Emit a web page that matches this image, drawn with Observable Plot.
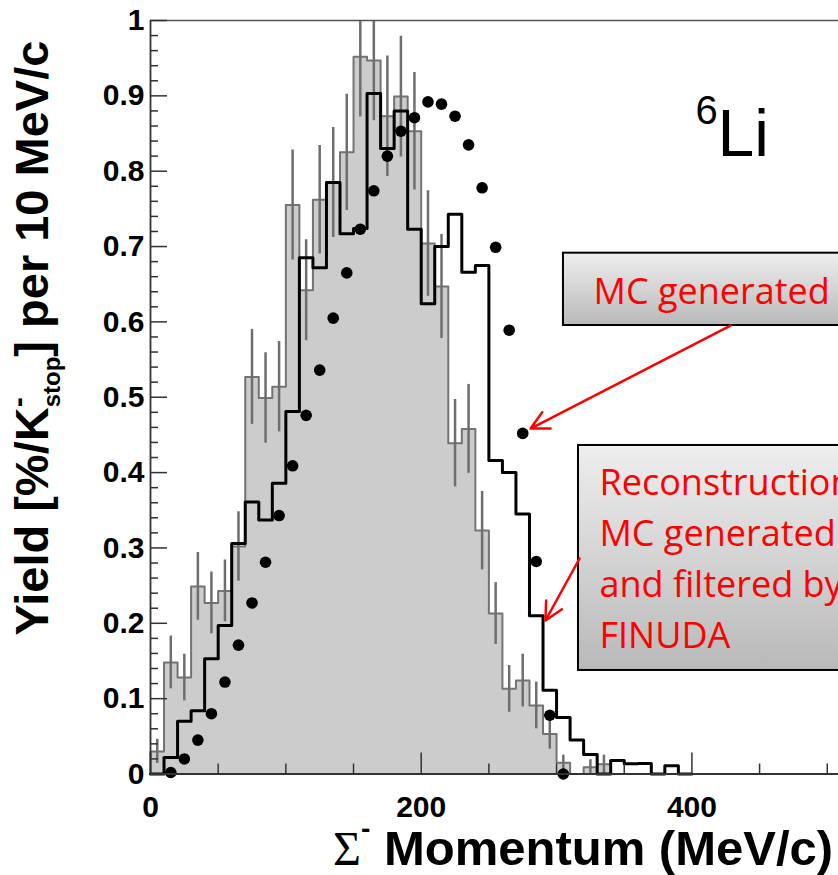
<!DOCTYPE html>
<html>
<head>
<meta charset="utf-8">
<script src="https://cdn.jsdelivr.net/npm/d3@7"></script>
<script src="https://cdn.jsdelivr.net/npm/@observablehq/plot@0.6"></script>
<style>
  html, body { margin: 0; padding: 0; background: #fff; overflow: hidden; }
  #chart svg { display: block; overflow: hidden; }
</style>
</head>
<body>
<div id="chart"></div>
<script>
// Σ⁻ momentum spectrum for K⁻ absorption at rest on ⁶Li, 10 MeV/c bins starting at 0
const binWidth = 10;

// measured yield per bin (grey filled histogram) and its statistical error
const measuredYield = [
  0.030, 0.148, 0.128, 0.249, 0.227, 0.243, 0.302, 0.527, 0.499, 0.514,
  0.755, 0.642, 0.762, 0.785, 0.825, 0.952, 0.947, 0.873, 0.899, 0.853,
  0.704, 0.647, 0.439, 0.458, 0.323, 0.213, 0.113, 0.124, 0.091, 0.053,
  0.015, 0.000, 0.009, 0.013
];
const measuredError = [
  0.016, 0.035, 0.031, 0.045, 0.041, 0.041, 0.046, 0.063, 0.060, 0.060,
  0.073, 0.067, 0.072, 0.073, 0.077, 0.080, 0.080, 0.080, 0.080, 0.078,
  0.070, 0.069, 0.058, 0.059, 0.052, 0.041, 0.031, 0.035, 0.031, 0.020,
  0.010, 0.000, 0.010, 0.012
];

// reconstruction of the MC sample after FINUDA filtering (black step line)
const reconstructedYield = [
  0.000, 0.022, 0.070, 0.084, 0.153, 0.197, 0.306, 0.361, 0.337, 0.386,
  0.481, 0.685, 0.672, 0.785, 0.717, 0.724, 0.903, 0.830, 0.880, 0.723,
  0.624, 0.700, 0.743, 0.666, 0.675, 0.416, 0.400, 0.345, 0.210, 0.111,
  0.075, 0.045, 0.026, 0.000, 0.018, 0.0135, 0.014, 0.000, 0.011, 0.000
];

// generated MC spectrum (black dots)
const generatedMomentum = [
  15, 25, 35, 45, 55, 65, 75, 85, 95, 105,
  115, 125, 135, 145, 155, 165, 175, 185, 195, 205,
  215, 225, 235, 245, 255, 265, 275, 285, 295, 305
];
const generatedYield = [
  0.002, 0.020, 0.045, 0.080, 0.122, 0.171, 0.227, 0.281, 0.343, 0.409,
  0.476, 0.536, 0.605, 0.665, 0.723, 0.774, 0.820, 0.853, 0.871, 0.892,
  0.889, 0.873, 0.835, 0.778, 0.699, 0.589, 0.452, 0.282, 0.078, 0.000
];

// axes
const xTicksMajor = [0, 200, 400];
const xTickLabels = ["0", "200", "400"];
const xTicksMinor = [50, 100, 150, 250, 300, 350, 450, 500];
const yTicksMajor = [0, 0.1, 0.2, 0.3, 0.4, 0.5, 0.6, 0.7, 0.8, 0.9, 1];
const yTickLabels = ["0", "0.1", "0.2", "0.3", "0.4", "0.5", "0.6", "0.7", "0.8", "0.9", "1"];
const yTicksMinor = d3.range(1, 50).filter(i => i % 5 !== 0).map(i => i / 50);

// annotations, placed in (momentum, yield) units
const noteBoxes = [
  {x1: 305.1, x2: 600, y1: 0.5952, y2: 0.6912},
  {x1: 316.2, x2: 600, y1: 0.1374, y2: 0.4360}
];
const noteTexts = [
  {x: 327.3, y: 0.6244, text: "MC generated"},
  {x: 331.7, y: 0.1666, text: "Reconstruction of\nMC generated\nand filtered by\nFINUDA"}
];
const noteArrows = [
  {x1: 428.5, y1: 0.5952, x2: 280.8, y2: 0.4585},
  {x1: 317.0, y1: 0.2860, x2: 291.8, y2: 0.2037}
];
const targetLabel = [{x: 418.9, y: 0.8208, text: "Li"}];
const targetMass = [{x: 402.7, y: 0.8633, text: "6"}];

const sans = "'Liberation Sans', Arial, Helvetica, sans-serif";
const serif = "'Liberation Serif', 'Times New Roman', serif";
const noteFont = "'Open Sans', 'Noto Sans', sans-serif";

// step outline of a histogram, closed down to zero at both ends
function stepOutline(values) {
  const pts = [{x: 0, y: 0}];
  values.forEach((v, i) => pts.push({x: i * binWidth, y: v}));
  pts.push({x: values.length * binWidth, y: values[values.length - 1]});
  pts.push({x: values.length * binWidth, y: 0});
  return pts;
}

const measuredBins = measuredYield.map((v, i) => ({
  mid: (i + 0.5) * binWidth, v, e: measuredError[i]
})).filter(d => d.e > 0);

const generated = generatedMomentum.map((x, i) => ({x, y: generatedYield[i]}));

const plot = Plot.plot({
  width: 838,
  height: 875,
  marginLeft: 150,
  marginRight: 0,
  marginTop: 20,
  marginBottom: 101.5,
  style: {fontFamily: sans, background: "white", overflow: "hidden"},
  x: {domain: [0, 508.3]},
  y: {domain: [0, 1]},
  marks: [
    // measured spectrum
    Plot.areaY(stepOutline(measuredYield), {x: "x", y: "y", curve: "step-after", fill: "#cccccc"}),
    Plot.line(stepOutline(measuredYield), {x: "x", y: "y", curve: "step-after", stroke: "#737373", strokeWidth: 2}),
    Plot.ruleX(measuredBins, {x: "mid", y1: d => d.v - d.e, y2: d => d.v + d.e, stroke: "#6e6e6e", strokeWidth: 2.5, clip: true}),
    // reconstructed MC
    Plot.line(stepOutline(reconstructedYield), {x: "x", y: "y", curve: "step-after", stroke: "black", strokeWidth: 3}),
    // generated MC
    Plot.dot(generated, {x: "x", y: "y", r: 5.8, fill: "black", stroke: "none"}),

    // frame
    Plot.ruleY([1], {stroke: "#555", strokeWidth: 1.5}),
    Plot.ruleY([0], {stroke: "#333", strokeWidth: 1.8}),
    Plot.ruleX([0], {stroke: "#333", strokeWidth: 1.8}),
    // inward ticks
    Plot.ruleY(yTicksMajor, {x1: 0, x2: 0, insetRight: -17, stroke: "#333", strokeWidth: 1.5}),
    Plot.ruleY(yTicksMinor, {x1: 0, x2: 0, insetRight: -8, stroke: "#333", strokeWidth: 1.5}),
    Plot.ruleX(xTicksMajor, {y1: 0, y2: 0, insetBottom: 21, stroke: "#333", strokeWidth: 1.5}),
    Plot.ruleX(xTicksMinor, {y1: 0, y2: 0, insetBottom: 10, stroke: "#333", strokeWidth: 1.5}),
    // tick labels
    Plot.axisY({ticks: yTicksMajor, tickSize: 0, tickPadding: 6, label: null,
      tickFormat: d => yTickLabels[yTicksMajor.indexOf(d)],
      fontSize: 30, fontWeight: "bold", fontFamily: sans, fill: "black"}),
    Plot.axisX({ticks: xTicksMajor, tickSize: 0, tickPadding: 22, label: null,
      tickFormat: d => xTickLabels[xTicksMajor.indexOf(d)],
      fontSize: 30, fontWeight: "bold", fontFamily: sans, fill: "black"}),

    // target nucleus
    Plot.text(targetLabel, {x: "x", y: "y", text: "text", textAnchor: "start", lineAnchor: "bottom",
      fontSize: 66, fontFamily: sans, fill: "black"}),
    Plot.text(targetMass, {x: "x", y: "y", text: "text", textAnchor: "start", lineAnchor: "bottom",
      fontSize: 40, fontFamily: sans, fill: "black"}),

    // callouts
    Plot.rect(noteBoxes, {x1: "x1", x2: "x2", y1: "y1", y2: "y2", fill: "url(#noteFill)",
      stroke: "black", strokeWidth: 2, ariaLabel: "note box"}),
    Plot.arrow(noteArrows, {x1: "x1", y1: "y1", x2: "x2", y2: "y2", stroke: "#ff0000",
      strokeWidth: 2.5, headLength: 12, headAngle: 54}),
    Plot.text(noteTexts, {x: "x", y: "y", text: "text", textAnchor: "start", lineAnchor: "bottom",
      lineHeight: 1.42, fontSize: 36, fontFamily: noteFont, fill: "#ff0000"})
  ]
});

// gradient fill and drop shadow for the callout boxes
const svg = d3.select(plot);
const defs = svg.insert("defs", ":first-child");
const grad = defs.append("linearGradient").attr("id", "noteFill")
  .attr("x1", 0).attr("y1", 0).attr("x2", 0).attr("y2", 1);
grad.append("stop").attr("offset", "0%").attr("stop-color", "#eeeeee");
grad.append("stop").attr("offset", "100%").attr("stop-color", "#b9b9b9");
const shadow = defs.append("filter").attr("id", "noteShadow")
  .attr("x", "-10%").attr("y", "-10%").attr("width", "130%").attr("height", "140%");
shadow.append("feDropShadow").attr("dx", 3).attr("dy", 5).attr("stdDeviation", 3)
  .attr("flood-color", "#000").attr("flood-opacity", 0.45);
svg.selectAll('g[aria-label="note box"] rect').attr("filter", "url(#noteShadow)");

// y axis title: Yield [%/K⁻_stop] per 10 MeV/c
const yTitle = svg.append("text")
  .attr("transform", "translate(48,338) rotate(-90)")
  .attr("text-anchor", "middle")
  .attr("font-family", sans).attr("font-weight", "bold").attr("font-size", 47).attr("fill", "black");
yTitle.append("tspan").text("Yield [%/K");
yTitle.append("tspan").attr("font-size", 30).attr("dy", -20).text("-");
yTitle.append("tspan").attr("font-size", 24).attr("dx", -10).attr("dy", 32).text("stop");
yTitle.append("tspan").attr("dy", -12).text("] per 10 MeV/c");

// x axis title: Σ⁻ Momentum (MeV/c)
const xTitle = svg.append("text")
  .attr("x", 333).attr("y", 865)
  .attr("text-anchor", "start")
  .attr("font-family", sans).attr("font-weight", "bold").attr("font-size", 49).attr("fill", "black");
xTitle.append("tspan").attr("font-family", serif).attr("font-weight", "normal").attr("font-size", 48).text("Σ");
xTitle.append("tspan").attr("font-size", 28).attr("dy", -27).text("-");
xTitle.append("tspan").attr("dy", 27).text(" Momentum (MeV/c)");

document.getElementById("chart").appendChild(plot);
</script>
</body>
</html>
